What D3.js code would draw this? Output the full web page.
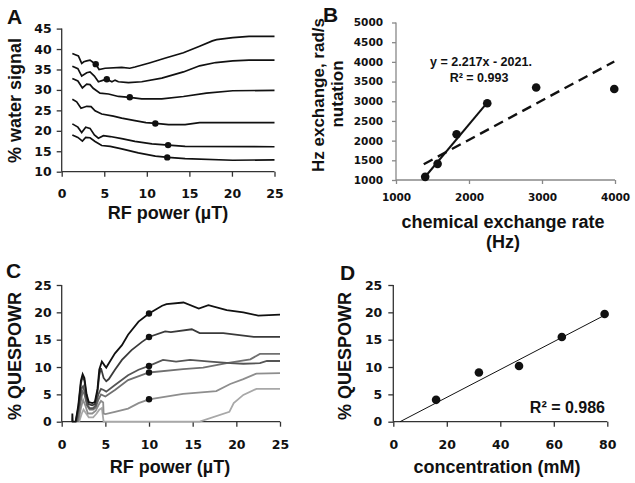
<!DOCTYPE html>
<html><head><meta charset="utf-8">
<script src="https://cdn.jsdelivr.net/npm/d3@7"></script>
<style>
html,body{margin:0;padding:0;background:#fff;}
text{font-family:"Liberation Sans",Arial,sans-serif;font-weight:bold;fill:#111;}
</style></head>
<body><svg id="c" width="635" height="483"></svg>
<script>
// ---------- Panel A: % water signal vs RF power ----------
const aTicksX = [0,5,10,15,20,25];
const aTicksY = [10,15,20,25,30,35,40,45];
const aCurve1 = [[1.25,38.9],[1.6,38.6],[1.96,38.3],[2.35,36.5],[2.6,36.9],[2.94,37.1],[3.33,37.3],[3.7,36.7],[4.0,36.3],[4.39,35.0],[5.1,35.3],[7.05,35.5],[8.0,35.3],[8.6,35.6],[10.3,36.6],[12.2,37.8],[14.3,39.1],[16.2,40.7],[17.7,42.0],[18.2,42.3],[20.1,42.8],[22,43.1],[25,43.1]];
const aCurve2 = [[1.25,35.8],[1.9,35.2],[2.35,33.4],[2.94,34.2],[3.33,34.4],[3.84,33.4],[4.31,32.0],[4.9,32.4],[5.3,32.6],[5.9,32.0],[6.27,32.4],[6.66,32.0],[7.84,31.8],[9.4,32.0],[11.76,32.9],[14.3,34.4],[16.2,35.9],[18.1,36.7],[20.1,37.1],[22,37.3],[25,37.3]];
const aCurve3 = [[1.25,32.8],[1.9,32.2],[2.43,30.5],[2.94,31.4],[3.33,31.3],[3.7,30.4],[4.5,29.2],[5.5,29.0],[6.66,28.4],[8.0,28.2],[9.4,27.8],[11.76,27.8],[14.3,28.4],[17,29.2],[20.1,29.8],[25,29.9]];
const aCurve4 = [[1.25,27.7],[1.76,27.1],[2.27,25.5],[2.94,26.0],[3.45,25.9],[3.92,24.9],[4.7,24.1],[6.07,23.6],[7.05,23.1],[8.6,22.5],[9.9,22.0],[11.05,21.8],[12.55,21.5],[14.5,21.5],[16.2,22.0],[25,22.0]];
const aCurve5 = [[1.25,21.7],[1.9,20.9],[2.35,19.6],[2.82,20.9],[3.33,20.6],[3.84,19.0],[4.31,18.2],[4.9,18.8],[5.7,18.6],[7.05,18.1],[8.6,17.4],[10.6,16.8],[12.55,16.5],[14.5,16.2],[25,16.1]];
const aCurve6 = [[1.25,19.0],[1.9,18.4],[2.43,17.5],[2.82,18.4],[3.33,18.3],[3.92,17.4],[4.7,16.4],[5.7,16.2],[7.05,15.6],[9.0,14.6],[11.0,13.8],[12.5,13.5],[14.5,13.2],[20.1,12.8],[25,12.9]];
const aDots = [[4.0,36.3],[5.3,32.6],[8.0,28.2],[11.0,21.8],[12.5,16.5],[12.4,13.5]];

// ---------- Panel B: nutation vs chemical exchange rate ----------
const bTicksX = [1000,2000,3000,4000];
const bTicksY = [1000,1500,2000,2500,3000,3500,4000,4500,5000];
const bRate = [1400,1570,1830,2250,2920,3990];
const bNutation = [1080,1410,2160,2950,3350,3310];
const bFitSlope = 2.217, bFitIntercept = -2021, bFitRange = [1400,2250];
const bDashed = [[1380,1400],[3990,4010]];
const bEquation = ["y = 2.217x - 2021.", "R² = 0.993"];

// ---------- Panel C: % QUESPOWR vs RF power ----------
const cTicksX = [0,5,10,15,20,25];
const cTicksY = [0,5,10,15,20,25];
const cCurve1 = [[1.2,0],[1.22,1.5],[1.26,0],[1.6,0],[1.9,3],[2.2,7.5],[2.4,8.7],[2.6,8],[2.85,5],[3.1,3.6],[3.5,3.4],[3.8,3.6],[4.1,6],[4.3,9.5],[4.6,11],[4.9,10.3],[5.1,9.9],[5.4,10.7],[6.1,12.5],[6.9,14.0],[7.6,15.9],[8.8,18.3],[10.0,19.8],[11.5,21.2],[12.0,21.5],[13.95,21.8],[15.7,20.7],[16.8,21.3],[18.9,20.4],[20.8,20.0],[22.5,19.4],[25,19.6]];
const cCurve2 = [[1.6,0],[1.9,2.5],[2.2,7],[2.4,8.3],[2.6,7.5],[2.85,4.5],[3.1,3.2],[3.5,3],[3.8,3.2],[4.1,5.5],[4.3,8.5],[4.5,9.8],[4.8,8],[5.1,7.4],[5.4,7.8],[6.1,9.5],[6.9,11.3],[8.0,13.1],[9.2,14.6],[10,15.5],[11.85,16.5],[12.5,16.4],[14.9,16.9],[15.8,16.2],[18.5,16.2],[22.0,15.5],[25,15.5]];
const cCurve3 = [[1.7,0],[2.0,3],[2.3,6.2],[2.45,6.5],[2.7,5],[2.95,3],[3.2,2.5],[3.6,2.5],[3.9,3],[4.2,5],[4.5,6],[4.8,5.8],[5.1,5.5],[6.1,6.7],[7.6,8.5],[8.8,9.5],[10,10.2],[11.6,11.3],[13.1,11.0],[14.7,11.3],[17.0,11.0],[19.3,10.7],[20.8,10.6],[22.7,10.7],[23.5,11.1],[25,11.1]];
const cCurve4 = [[1.8,0],[2.1,3],[2.4,5.5],[2.6,5],[2.9,3],[3.2,2.2],[3.6,2.2],[3.9,2.6],[4.2,4],[4.5,5],[5.0,4.6],[6.1,5.8],[7.6,7.6],[10,9.0],[13.9,9.6],[16.2,9.9],[18.9,10.7],[21.6,11.4],[22.7,12.4],[25,12.4]];
const cCurve5 = [[1.9,0],[2.2,2.5],[2.45,4],[2.7,3],[3.0,1.5],[3.5,1.5],[3.9,2],[4.2,3],[4.5,3.8],[4.75,3.5],[4.8,1.5],[5.0,1.4],[6.1,1.8],[7.6,2.4],[8.8,3.4],[10,4.1],[13.9,5.1],[17.7,5.6],[19.3,6.9],[20.8,7.8],[22.3,8.8],[25,8.9]];
const cCurve6 = [[2.0,0],[2.3,1.5],[2.5,2.2],[2.8,1.5],[3.1,0.8],[3.6,0.8],[4.0,1.5],[4.3,2.2],[4.6,2.5],[4.8,0],[15.8,0],[19.2,1.8],[19.7,3.4],[20.8,4.9],[22.3,6.0],[25,6.0]];
const cDots = [[10,19.8],[10,15.5],[10,10.2],[10,9.0],[10,4.1]];
const cColors = ["#111","#3a3a3a","#555","#707070","#8e8e8e","#a8a8a8"];

// ---------- Panel D: % QUESPOWR vs concentration ----------
const dTicksX = [0,20,40,60,80];
const dTicksY = [0,5,10,15,20,25];
const dConc = [16,32,47,63,79];
const dQuespowr = [4.0,9.0,10.2,15.5,19.7];
const dFitSlope = 0.2546, dFitIntercept = -0.64, dFitRange = [2.5,79];
const dR2 = "R² = 0.986";

const svg = d3.select("#c");
svg.append("rect").attr("width",635).attr("height",483).attr("fill","#fff");

function axes(g, x, y, tx, ty, opt){
  const ax = g.append("g").attr("transform",`translate(0,${y.range()[0]})`)
    .call(d3.axisBottom(x).tickValues(tx).tickSize(opt.tick).tickPadding(opt.padX).tickFormat(d3.format("d")));
  const ay = g.append("g").attr("transform",`translate(${x.range()[0]},0)`)
    .call(d3.axisLeft(y).tickValues(ty).tickSize(opt.tick).tickPadding(opt.padY).tickFormat(d3.format("d")));
  [ax,ay].forEach(a=>{
    a.select(".domain").attr("stroke",opt.axisColor).attr("stroke-width",1.3);
    a.selectAll(".tick line").attr("stroke",opt.axisColor).attr("stroke-width",1.3);
    a.selectAll(".tick text").attr("fill","#111").style("font-size",opt.fs+"px")
      .style("font-family","'DejaVu Sans',Verdana,sans-serif").style("font-weight","bold");
  });
  ax.select(".domain").attr("d",`M${x.range()[0]},0H${x.range()[1]}`);
  ay.select(".domain").attr("d",`M0,${y.range()[0]}V${y.range()[1]}`);
  return [ax,ay];
}

// ----- Panel A -----
{
  const g = svg.append("g");
  const x = d3.scaleLinear().domain([0,25]).range([61.7,274.5]);
  const y = d3.scaleLinear().domain([10,45]).range([171.7,28.6]);
  axes(g,x,y,aTicksX,aTicksY,{tick:5,padX:12,padY:5,fs:12.5,axisColor:"#333"});
  const line = d3.line().x(d=>x(d[0])).y(d=>y(d[1]));
  [aCurve1,aCurve2,aCurve3,aCurve4,aCurve5,aCurve6].forEach(c=>{
    g.append("path").attr("d",line(c)).attr("fill","none").attr("stroke","#111").attr("stroke-width",1.7);
  });
  g.selectAll("circle.a").data(aDots).join("circle").attr("cx",d=>x(d[0])).attr("cy",d=>y(d[1])).attr("r",3.2).attr("fill","#111");
  g.append("text").attr("x",7).attr("y",24).style("font-size","21px").text("A");
  g.append("text").attr("x",168).attr("y",219).attr("text-anchor","middle").style("font-size","18px").text("RF power (µT)");
  g.append("text").attr("transform","translate(15,100.5) rotate(-90)").attr("text-anchor","middle").attr("dominant-baseline","central").style("font-size","18px").text("% water signal");
}

// ----- Panel B -----
{
  const g = svg.append("g");
  const x = d3.scaleLinear().domain([1000,4000]).range([396,615]);
  const y = d3.scaleLinear().domain([1000,5000]).range([180,22.5]);
  axes(g,x,y,bTicksX,bTicksY,{tick:4,padX:10,padY:9,fs:10.5,axisColor:"#888"});
  const pts = bRate.map((r,i)=>[r,bNutation[i]]);
  const line = d3.line().x(d=>x(d[0])).y(d=>y(d[1]));
  g.append("path").attr("d",line(bDashed)).attr("fill","none").attr("stroke","#111").attr("stroke-width",2.4).attr("stroke-dasharray","10,6");
  g.append("path").attr("d",line(bFitRange.map(v=>[v,bFitSlope*v+bFitIntercept]))).attr("fill","none").attr("stroke","#111").attr("stroke-width",2);
  g.selectAll("circle.b").data(pts).join("circle").attr("cx",d=>x(d[0])).attr("cy",d=>y(d[1])).attr("r",4.3).attr("fill","#111");
  g.append("text").attr("x",481).attr("y",66).attr("text-anchor","middle").style("font-size","12.5px").text(bEquation[0]);
  g.append("text").attr("x",479).attr("y",82).attr("text-anchor","middle").style("font-size","12.5px").text(bEquation[1]);
  g.append("text").attr("x",323).attr("y",22).style("font-size","21px").text("B");
  g.append("text").attr("x",503).attr("y",228).attr("text-anchor","middle").style("font-size","18px").text("chemical exchange rate");
  g.append("text").attr("x",503).attr("y",248).attr("text-anchor","middle").style("font-size","18px").text("(Hz)");
  g.append("text").attr("transform","translate(318,95) rotate(-90)").attr("text-anchor","middle").attr("dominant-baseline","central").style("font-size","17px").text("Hz exchange, rad/s");
  g.append("text").attr("transform","translate(337,94) rotate(-90)").attr("text-anchor","middle").attr("dominant-baseline","central").style("font-size","17px").text("nutation");
}

// ----- Panel C -----
{
  const g = svg.append("g");
  const x = d3.scaleLinear().domain([0,25]).range([61.7,280]);
  const y = d3.scaleLinear().domain([0,25]).range([421.7,285]);
  axes(g,x,y,cTicksX,cTicksY,{tick:5,padX:13,padY:5,fs:12.5,axisColor:"#333"});
  const line = d3.line().x(d=>x(d[0])).y(d=>y(d[1]));
  const curves = [cCurve1,cCurve2,cCurve3,cCurve4,cCurve5,cCurve6];
  curves.slice().reverse().forEach((c,i)=>{
    const k = curves.length-1-i;
    g.append("path").attr("d",line(c)).attr("fill","none").attr("stroke",cColors[k]).attr("stroke-width",1.8);
  });
  g.selectAll("circle.c").data(cDots).join("circle").attr("cx",d=>x(d[0])).attr("cy",d=>y(d[1])).attr("r",3.2).attr("fill","#111");
  g.append("text").attr("x",6).attr("y",278).style("font-size","21px").text("C");
  g.append("text").attr("x",170).attr("y",473).attr("text-anchor","middle").style("font-size","18px").text("RF power (µT)");
  g.append("text").attr("transform","translate(15,356) rotate(-90)").attr("text-anchor","middle").attr("dominant-baseline","central").style("font-size","18px").text("% QUESPOWR");
}

// ----- Panel D -----
{
  const g = svg.append("g");
  const x = d3.scaleLinear().domain([0,80]).range([393.3,607.3]);
  const y = d3.scaleLinear().domain([0,25]).range([421.7,285]);
  axes(g,x,y,dTicksX,dTicksY,{tick:5,padX:13,padY:6,fs:12.5,axisColor:"#333"});
  const line = d3.line().x(d=>x(d[0])).y(d=>y(d[1]));
  g.append("path").attr("d",line(dFitRange.map(v=>[v,dFitSlope*v+dFitIntercept]))).attr("fill","none").attr("stroke","#111").attr("stroke-width",1);
  const pts = dConc.map((c,i)=>[c,dQuespowr[i]]);
  g.selectAll("circle.d").data(pts).join("circle").attr("cx",d=>x(d[0])).attr("cy",d=>y(d[1])).attr("r",4.3).attr("fill","#111");
  g.append("text").attr("x",605).attr("y",413).attr("text-anchor","end").style("font-size","16px").text(dR2);
  g.append("text").attr("x",340).attr("y",280).style("font-size","21px").text("D");
  g.append("text").attr("x",497).attr("y",473).attr("text-anchor","middle").style("font-size","18px").text("concentration (mM)");
  g.append("text").attr("transform","translate(345,356) rotate(-90)").attr("text-anchor","middle").attr("dominant-baseline","central").style("font-size","18px").text("% QUESPOWR");
}
</script></body></html>
